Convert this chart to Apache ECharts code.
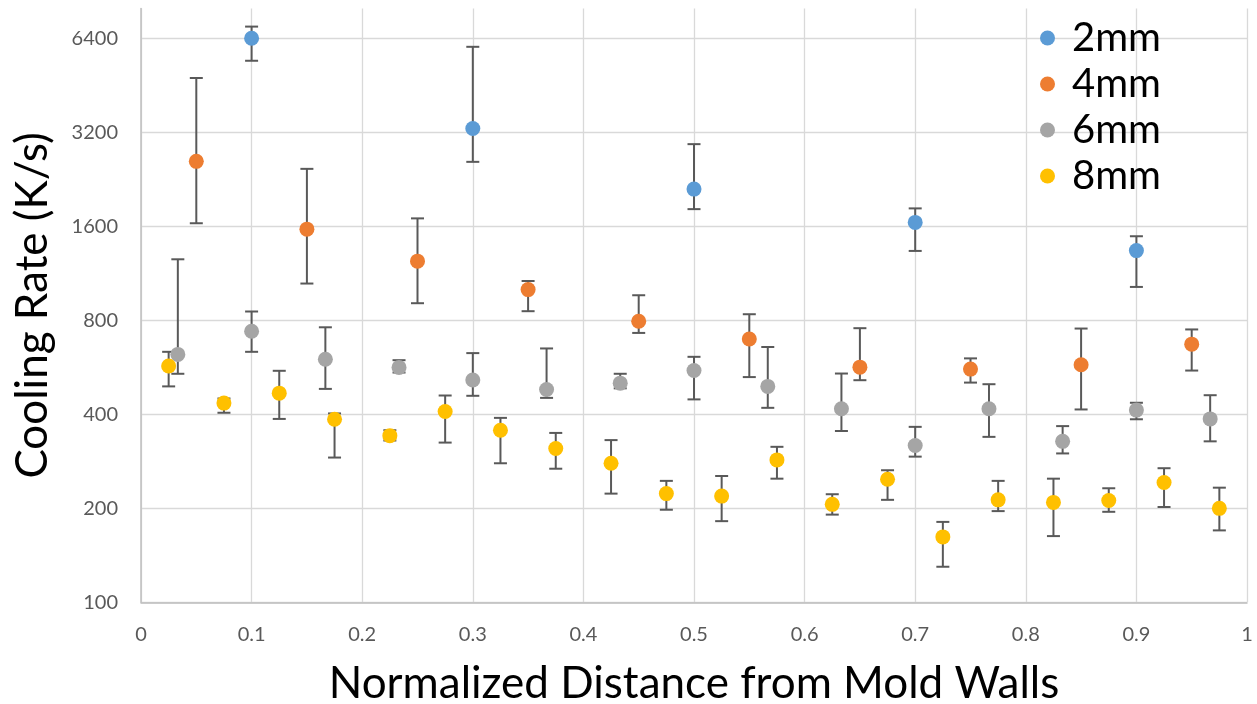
<!DOCTYPE html>
<html>
<head>
<meta charset="utf-8">
<script src="https://cdn.jsdelivr.net/npm/echarts@6/dist/echarts.min.js"></script>
<style>
html,body{margin:0;padding:0;background:#fff;}
#c{width:1257px;height:704px;}
</style>
</head>
<body>
<div id="c"></div>
<script>
// ---- data ----
const seriesNames = ['2mm', '4mm', '6mm', '8mm'];
const yTicks = [100, 200, 400, 800, 1600, 3200, 6400];

const x2 = [0.1, 0.3, 0.5, 0.7, 0.9];
const v2 = [6420, 3300, 2110, 1650, 1340];
const hi2 = [7000, 6030, 2940, 1830, 1490];
const lo2 = [5440, 2580, 1820, 1337, 1025];

const x4 = [0.05, 0.15, 0.25, 0.35, 0.45, 0.55, 0.65, 0.75, 0.85, 0.95];
const v4 = [2590, 1570, 1240, 1005, 796, 698, 567, 559, 577, 672];
const hi4 = [4790, 2450, 1700, 1071, 964, 838, 756, 605, 754, 749];
const lo4 = [1640, 1051, 909, 857, 730, 527, 515, 506, 415, 553];

const x6 = [0.0333, 0.1, 0.1667, 0.2333, 0.3, 0.3667, 0.4333, 0.5, 0.5667, 0.6333, 0.7, 0.7667, 0.8333, 0.9, 0.9667];
const v6 = [623, 739, 601, 566, 516, 481, 504, 553, 492, 417, 318, 417, 328, 413, 387];
const hi6 = [1257, 855, 761, 597, 629, 651, 540, 612, 658, 541, 365, 500, 367, 436, 461];
const lo6 = [540, 635, 483, 545, 459, 452, 485, 447, 420, 354, 293, 339, 300, 386, 328];

const x8 = [0.025, 0.075, 0.125, 0.175, 0.225, 0.275, 0.325, 0.375, 0.425, 0.475, 0.525, 0.575, 0.625, 0.675, 0.725, 0.775, 0.825, 0.875, 0.925, 0.975];
const v8 = [572, 435, 468, 386, 342, 409, 356, 311, 279, 223, 219, 286, 206, 248, 162, 213, 209, 212, 242, 200];
const hi8 = [635, 450, 552, 403, 356, 460, 390, 349, 331, 245, 254, 315, 222, 265, 181, 245, 249, 232, 269, 233];
const lo8 = [492, 405, 387, 291, 330, 325, 279, 268, 223, 198, 182, 249, 191, 213, 130, 196, 163, 195, 202, 170];

const colors = ['#5b9bd5', '#ed7d31', '#a5a5a5', '#ffc000'];
// ---- build ----
const groups = [[x2, v2, lo2, hi2], [x4, v4, lo4, hi4], [x6, v6, lo6, hi6], [x8, v8, lo8, hi8]];
const FONT = 'Lato';

function errRender(params, api) {
  const x = api.value(0), lo = api.value(1), hi = api.value(2);
  const a = api.coord([x, hi]);
  const b = api.coord([x, lo]);
  const hw = 6.5;
  const st = { stroke: '#595959', lineWidth: 2 };
  return {
    type: 'group',
    children: [
      { type: 'line', shape: { x1: a[0], y1: a[1], x2: b[0], y2: b[1] }, style: st },
      { type: 'line', shape: { x1: a[0] - hw, y1: a[1], x2: a[0] + hw, y2: a[1] }, style: st },
      { type: 'line', shape: { x1: b[0] - hw, y1: b[1], x2: b[0] + hw, y2: b[1] }, style: st }
    ]
  };
}

const series = [];
groups.forEach((g, i) => {
  series.push({
    type: 'custom',
    name: seriesNames[i] + ' err',
    renderItem: errRender,
    data: g[0].map((x, k) => [x, g[2][k], g[3][k]]),
    encode: { x: 0, y: [1, 2] },
    z: 1,
    silent: true
  });
});
groups.forEach((g, i) => {
  series.push({
    type: 'scatter',
    name: seriesNames[i],
    data: g[0].map((x, k) => [x, g[1][k]]),
    symbol: 'circle',
    symbolSize: 15,
    itemStyle: { color: colors[i], opacity: 1 },
    z: 2 + i
  });
});

const chart = echarts.init(document.getElementById('c'), null, { renderer: 'canvas' });
chart.setOption({
  animation: false,
  color: colors,
  grid: { left: 141, right: 10, top: 8.5, bottom: 101.7, containLabel: false, outerBoundsMode: 'none' },
  legend: {
    data: seriesNames,
    orient: 'vertical',
    left: 1035,
    top: 13,
    padding: 5,
    icon: 'circle',
    itemWidth: 15,
    itemHeight: 15,
    itemGap: 6,
    textStyle: { fontFamily: FONT, fontSize: 40, color: '#000', padding: [0, 0, 0, 12] }
  },
  xAxis: {
    type: 'value',
    min: 0,
    max: 1,
    interval: 0.1,
    name: 'Normalized Distance from Mold Walls',
    nameLocation: 'middle',
    nameGap: 60,
    nameTextStyle: { fontFamily: FONT, fontSize: 44, color: '#000' },
    axisLine: { show: true, lineStyle: { color: '#bfbfbf', width: 1.5 } },
    axisTick: { show: false },
    axisLabel: { fontFamily: FONT, fontSize: 20, color: '#595959', margin: 22, formatter: v => String(v) },
    splitLine: { show: true, lineStyle: { color: '#d9d9d9', width: 1.3 } }
  },
  yAxis: {
    type: 'log',
    logBase: 2,
    min: 100,
    max: 8000,
    name: 'Cooling Rate (K/s)',
    nameLocation: 'middle',
    nameRotate: 90,
    nameGap: 86,
    nameTextStyle: { fontFamily: FONT, fontSize: 44, color: '#000' },
    axisLine: { show: true, lineStyle: { color: '#bfbfbf', width: 1.5 } },
    axisTick: { show: false, customValues: yTicks },
    axisLabel: { fontFamily: FONT, fontSize: 20, color: '#595959', margin: 23, customValues: yTicks, formatter: v => String(Math.round(v)) },
    splitLine: { show: true, lineStyle: { color: '#d9d9d9', width: 1.3 } }
  },
  series: series
});
</script>
</body>
</html>
